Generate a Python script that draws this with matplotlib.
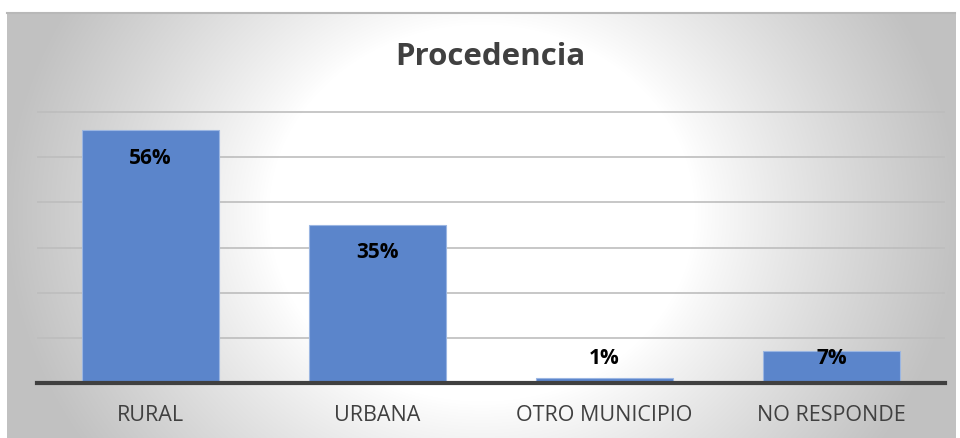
import matplotlib.pyplot as plt
import numpy as np

# --- data ---
categories = ['RURAL', 'URBANA', 'OTRO MUNICIPIO', 'NO RESPONDE']
values = [56, 35, 1, 7]
labels = ['56%', '35%', '1%', '7%']

plt.rcParams['font.family'] = ['Open Sans', 'DejaVu Sans']

W, H = 960, 438
fig = plt.figure(figsize=(W / 100, H / 100), dpi=100)
fig.patch.set_facecolor('white')

# --- chart area background (radial gradient, white centre, grey edges) ---
bg = fig.add_axes([7 / W, 0, 948 / W, (H - 13) / H], zorder=-2)
ny, nx = 425, 948
yy, xx = np.mgrid[0:ny, 0:nx]
dx = (xx - nx / 2) / (nx / 2)
dy = (yy - 200) / 420
r = np.sqrt(dx ** 2 + dy ** 2)
t = np.clip((r - 0.45) / 0.55, 0, 1)
shade = 1 - 0.24 * t ** 0.9
bg.imshow(np.dstack([shade] * 3), aspect='auto', extent=(0, 1, 0, 1), origin='upper')
bg.set_xlim(0, 1)
bg.set_ylim(0, 1)
bg.axis('off')
bg.plot([0, 1], [1, 1], color='#b8b8b8', lw=1.5, transform=bg.transAxes, clip_on=False)

# --- main axes ---
ymax = 62
px_per_unit = 271 / 60
ax_h = ymax * px_per_unit
ax = fig.add_axes([37 / W, 55 / H, 908 / W, ax_h / H])
ax.set_facecolor('none')

x = np.arange(len(categories))
ax.bar(x, values, width=0.6, color='#5B85CB', edgecolor='#9BB6E2', linewidth=0.8, zorder=3)

ax.set_xlim(-0.5, len(categories) - 0.5)
ax.set_ylim(0, ymax)
ax.set_yticks(range(0, 61, 10))
ax.set_yticklabels([])
ax.grid(axis='y', color='#bdbdbd', linewidth=1.2, zorder=0)
ax.tick_params(axis='both', length=0)
ax.set_xticks(x)
ax.set_xticklabels(categories, fontsize=15.5, color='#404040')
ax.tick_params(axis='x', pad=16)

for s in ['top', 'right', 'left']:
    ax.spines[s].set_visible(False)
ax.spines['bottom'].set_color('#404040')
ax.spines['bottom'].set_linewidth(3)
ax.spines['bottom'].set_zorder(4)

# value labels: inside end, kept above the baseline for short bars
for xi, v, lab in zip(x, values, labels):
    ypos = max(v - 6.2, 5.5)
    ax.text(xi, ypos, lab, ha='center', va='center', fontsize=15,
            fontweight='bold', color='black', zorder=5)

fig.text(490 / W, 1 - 57 / H, 'Procedencia', ha='center', va='center',
         fontsize=22.5, fontweight='bold', color='#404040')

plt.savefig('out.png', dpi=100)
